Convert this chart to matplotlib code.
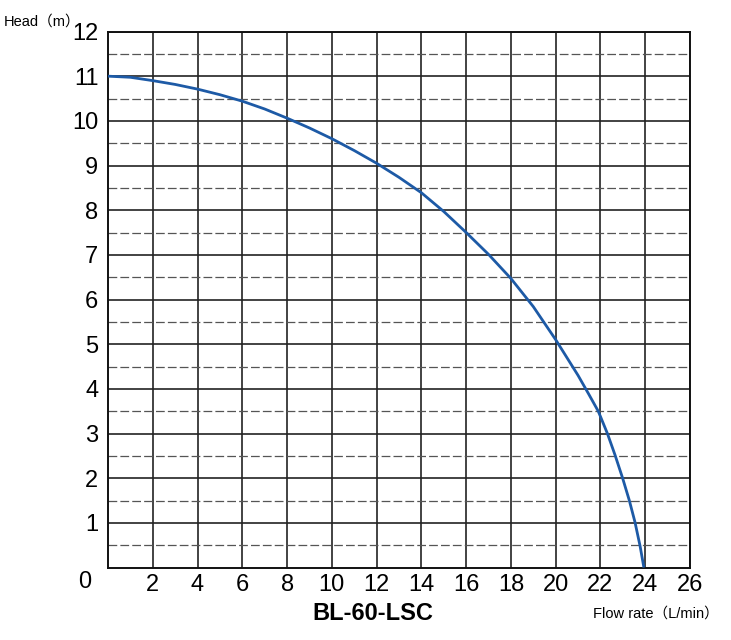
import matplotlib
matplotlib.use("Agg")
import matplotlib.pyplot as plt
import numpy as np

plt.rcParams['font.family'] = ['Liberation Sans', 'DejaVu Sans']

flow = [0, 1, 2, 3, 4, 5, 6, 7, 8, 9, 10, 11, 12, 13, 14, 15, 16, 17, 18, 19, 20,
        21, 21.5, 21.9, 22, 22.31, 22.65, 22.99, 23.29, 23.54, 23.77, 23.94]
head = [11.0, 10.975, 10.9, 10.815, 10.71, 10.585, 10.44, 10.265, 10.06, 9.84, 9.6,
        9.335, 9.05, 8.735, 8.39, 7.97, 7.5, 7.01, 6.47, 5.84, 5.1,
        4.3, 3.86, 3.5, 3.38, 3.0, 2.52, 2.0, 1.5, 1.02, 0.48, 0.0]
xticks = [2, 4, 6, 8, 10, 12, 14, 16, 18, 20, 22, 24, 26]
yticks = [1, 2, 3, 4, 5, 6, 7, 8, 9, 10, 11, 12]
title = "BL-60-LSC"
xlabel = "Flow rate（L/min）"
ylabel = "Head（m）"

fig = plt.figure(figsize=(7.31, 6.4), dpi=100)
ax = fig.add_axes([108/731, 1-567.5/640, 582/731, 536/640])
ax.set_xlim(0, 26)
ax.set_ylim(0, 12)

# grid
for x in xticks:
    ax.axvline(x, color='#222222', lw=1.2, zorder=1)
for y in yticks:
    ax.axhline(y, color='#222222', lw=1.2, zorder=1)
for y in np.arange(0.5, 12, 1.0):
    ax.axhline(y, color='#555555', lw=0.9, ls=(0, (7, 2.5)), zorder=1)

ax.plot(flow, head, color='#1d5aa6', lw=2.0, zorder=3, solid_capstyle='butt',
        solid_joinstyle='round')

ax.set_xticks(xticks)
ax.set_yticks(yticks)
ax.set_xticklabels([str(v) for v in xticks], fontsize=17)
ax.set_yticklabels([str(v) for v in yticks], fontsize=17)
ax.tick_params(axis='both', length=0)
ax.tick_params(axis='x', pad=5)
ax.tick_params(axis='y', pad=7)
for s in ax.spines.values():
    s.set_linewidth(1.4)
    s.set_color('#111111')

ax.annotate("0", xy=(0, 0), xycoords='data', xytext=(-23, -14),
            textcoords='offset pixels', ha='center', va='center', fontsize=17)

fig.text(373/731, 1-613/640, title, ha='center', va='center', fontsize=17, fontweight='bold')
fig.text(656/731, 1-614/640, xlabel, ha='center', va='center', fontsize=10.5,
         family=['Liberation Sans', 'Noto Sans CJK SC'])
fig.text(42/731, 1-22/640, ylabel, ha='center', va='center', fontsize=10.5,
         family=['Liberation Sans', 'Noto Sans CJK SC'])

fig.savefig("out.png", dpi=100)
